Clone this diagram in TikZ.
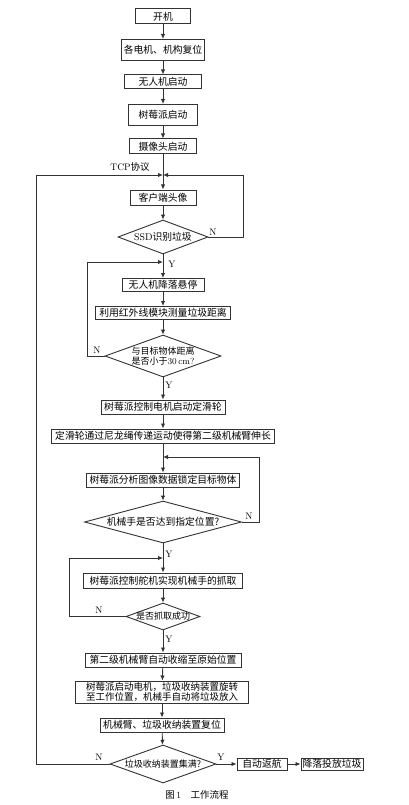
\documentclass[tikz,border=0pt]{standalone}
\usepackage{fontspec}
\newfontfamily\cjk{Noto Sans CJK SC}
\usetikzlibrary{shapes.geometric,arrows.meta}
\begin{document}
\begin{tikzpicture}[x=1pt,y=-1pt,
  every node/.style={font=\fontsize{9.8}{11}\selectfont},
  box/.style={draw=black!80, line width=1pt, fill=white, inner sep=0pt, minimum height=13pt, align=center},
  dia/.style={draw=black!80, line width=0.9pt, shape=diamond, inner sep=0pt, fill=white},
  lbl/.style={inner sep=0pt, font=\fontsize{9.5}{10}\selectfont},
  ar/.style={-{Latex[length=5pt,width=4.5pt]}, line width=0.9pt, draw=black!80},
  ln/.style={line width=0.9pt, draw=black!80}]
\useasboundingbox (0,0) rectangle (408,805);
\fill[white] (0,0) rectangle (408,805);
% boxes
\node[box, minimum width=55pt, minimum height=15pt] (n1) at (163,16.5) {\cjk 开机};
\node[box, minimum width=83pt, minimum height=21pt] (n2) at (163,50) {\cjk 各电机、机构复位};
\node[box, minimum width=77pt, minimum height=14pt] (n3) at (163,82) {\cjk 无人机启动};
\node[box, minimum width=69pt, minimum height=21pt] (n4) at (163,115) {\cjk 树莓派启动};
\node[box, minimum width=67pt, minimum height=15pt] (n5) at (163,146.5) {\cjk 摄像头启动};
\node[box, minimum width=66pt, minimum height=15pt] (n6) at (163,197.5) {\cjk 客户端头像};
\node[dia, minimum width=90pt, minimum height=34pt] (d1) at (163,237) {};
\node[lbl, font=\fontsize{9.8}{11}\selectfont] at (d1) {SSD{\cjk 识别垃圾}};
\node[box, minimum width=82pt] (n7) at (163,285) {\cjk 无人机降落悬停};
\node[box, minimum width=135pt] (n8) at (163,313) {\cjk 利用红外线模块测量垃圾距离};
\node[dia, minimum width=116pt, minimum height=42pt] (d2) at (163,356) {};
\node[lbl, align=center, font=\fontsize{9}{10}\selectfont] at (d2) {{\cjk 与目标物体距离}\\{\cjk 是否小于}30\,cm?};
\node[box, minimum width=124pt, minimum height=14pt] (n9) at (163,407) {\cjk 树莓派控制电机启动定滑轮};
\node[box, minimum width=223pt, minimum height=14pt] (n10) at (163,436) {\cjk 定滑轮通过尼龙绳传递运动使得第二级机械臂伸长};
\node[box, minimum width=153pt, minimum height=14pt] (n11) at (163,480) {\cjk 树莓派分析图像数据锁定目标物体};
\node[dia, minimum width=157pt, minimum height=42pt] (d3) at (163,522) {};
\node[lbl, font=\fontsize{9.8}{11}\selectfont] at (d3) {\cjk 机械手是否达到指定位置?};
\node[box, minimum width=159pt, minimum height=15pt] (n12) at (163,580.5) {\cjk 树莓派控制舵机实现机械手的抓取};
\node[dia, minimum width=74pt, minimum height=27pt] (d4) at (163,616.5) {};
\node[lbl, font=\fontsize{9}{10}\selectfont] at (d4) {\cjk 是否抓取成功};
\node[box, minimum width=156pt, minimum height=14pt] (n13) at (163,660) {\cjk 第二级机械臂自动收缩至原始位置};
\node[box, minimum width=173pt, minimum height=22pt, font=\fontsize{9.5}{10.5}\selectfont] (n14) at (162,692) {{\cjk 树莓派启动电机，垃圾收纳装置旋转}\\{\cjk 至工作位置，机械手自动将垃圾放入}};
\node[box, minimum width=124pt, minimum height=14pt] (n15) at (162,725) {\cjk 机械臂、垃圾收纳装置复位};
\node[dia, minimum width=106pt, minimum height=38pt] (d5) at (163,764) {};
\node[lbl, font=\fontsize{9}{10}\selectfont] at (d5) {\cjk 垃圾收纳装置集满?};
\node[box, minimum width=50pt, minimum height=12pt] (n16) at (262,764) {\cjk 自动返航};
\node[box, minimum width=62pt, minimum height=12pt] (n17) at (332,764) {\cjk 降落投放垃圾};
% junction coordinates
\coordinate (j1) at (163,175);
\coordinate (j2) at (163,262);
\coordinate (j3) at (163,457);
\coordinate (j4) at (163,558);
% main arrows
\draw[ar] (n1) -- (n2);
\draw[ar] (n2) -- (n3);
\draw[ar] (n3) -- (n4);
\draw[ar] (n4) -- (n5);
\draw[ar] (n5) -- (n6);
\draw[ar] (n6) -- (d1);
\draw[ar] (d1) -- (n7);
\draw[ar] (n7) -- (n8);
\draw[ar] (n8) -- (d2);
\draw[ar] (d2) -- (n9);
\draw[ar] (n9) -- (n10);
\draw[ar] (n10) -- (n11);
\draw[ar] (n11) -- (d3);
\draw[ar] (d3) -- (n12);
\draw[ar] (n12) -- (d4);
\draw[ar] (d4) -- (n13);
\draw[ar] (n13) -- (n14);
\draw[ar] (n14) -- (n15);
\draw[ar] (n15) -- (d5);
\draw[ar] (d5) -- (n16);
\draw[ar] (n16) -- (n17);
% loops
\draw[ar] (d1.east) -- (243,237) -- (243,175) -- (j1);
\draw[ar] (d2.west) -- (87,356) -- (87,262) -- (j2);
\draw[ar] (d3.east) -- (259,522) -- (259,457) -- (j3);
\draw[ar] (d4.west) -- (69,616.5) -- (69,558) -- (j4);
\draw[ar] (d5.west) -- (36,764) -- (36,175) -- (j1);
% labels
\node[lbl] (t0) at (130,167) {TCP{\cjk 协议}};
\node[lbl] (t1) at (213,232) {N};
\node[lbl] (t2) at (172,264) {Y};
\node[lbl] (t3) at (97,350) {N};
\node[lbl] (t4) at (169,385) {Y};
\node[lbl] (t5) at (249,516) {N};
\node[lbl] (t6) at (169,554) {Y};
\node[lbl] (t7) at (99,610) {N};
\node[lbl] (t8) at (169,639) {Y};
\node[lbl] (t9) at (99,757) {N};
\node[lbl] (t10) at (221,757) {Y};
\node[lbl, font=\fontsize{9.5}{10}\selectfont] (cap) at (197,795) {{\cjk 图}\,1\quad{\cjk 工作流程}};
\end{tikzpicture}
\end{document}
